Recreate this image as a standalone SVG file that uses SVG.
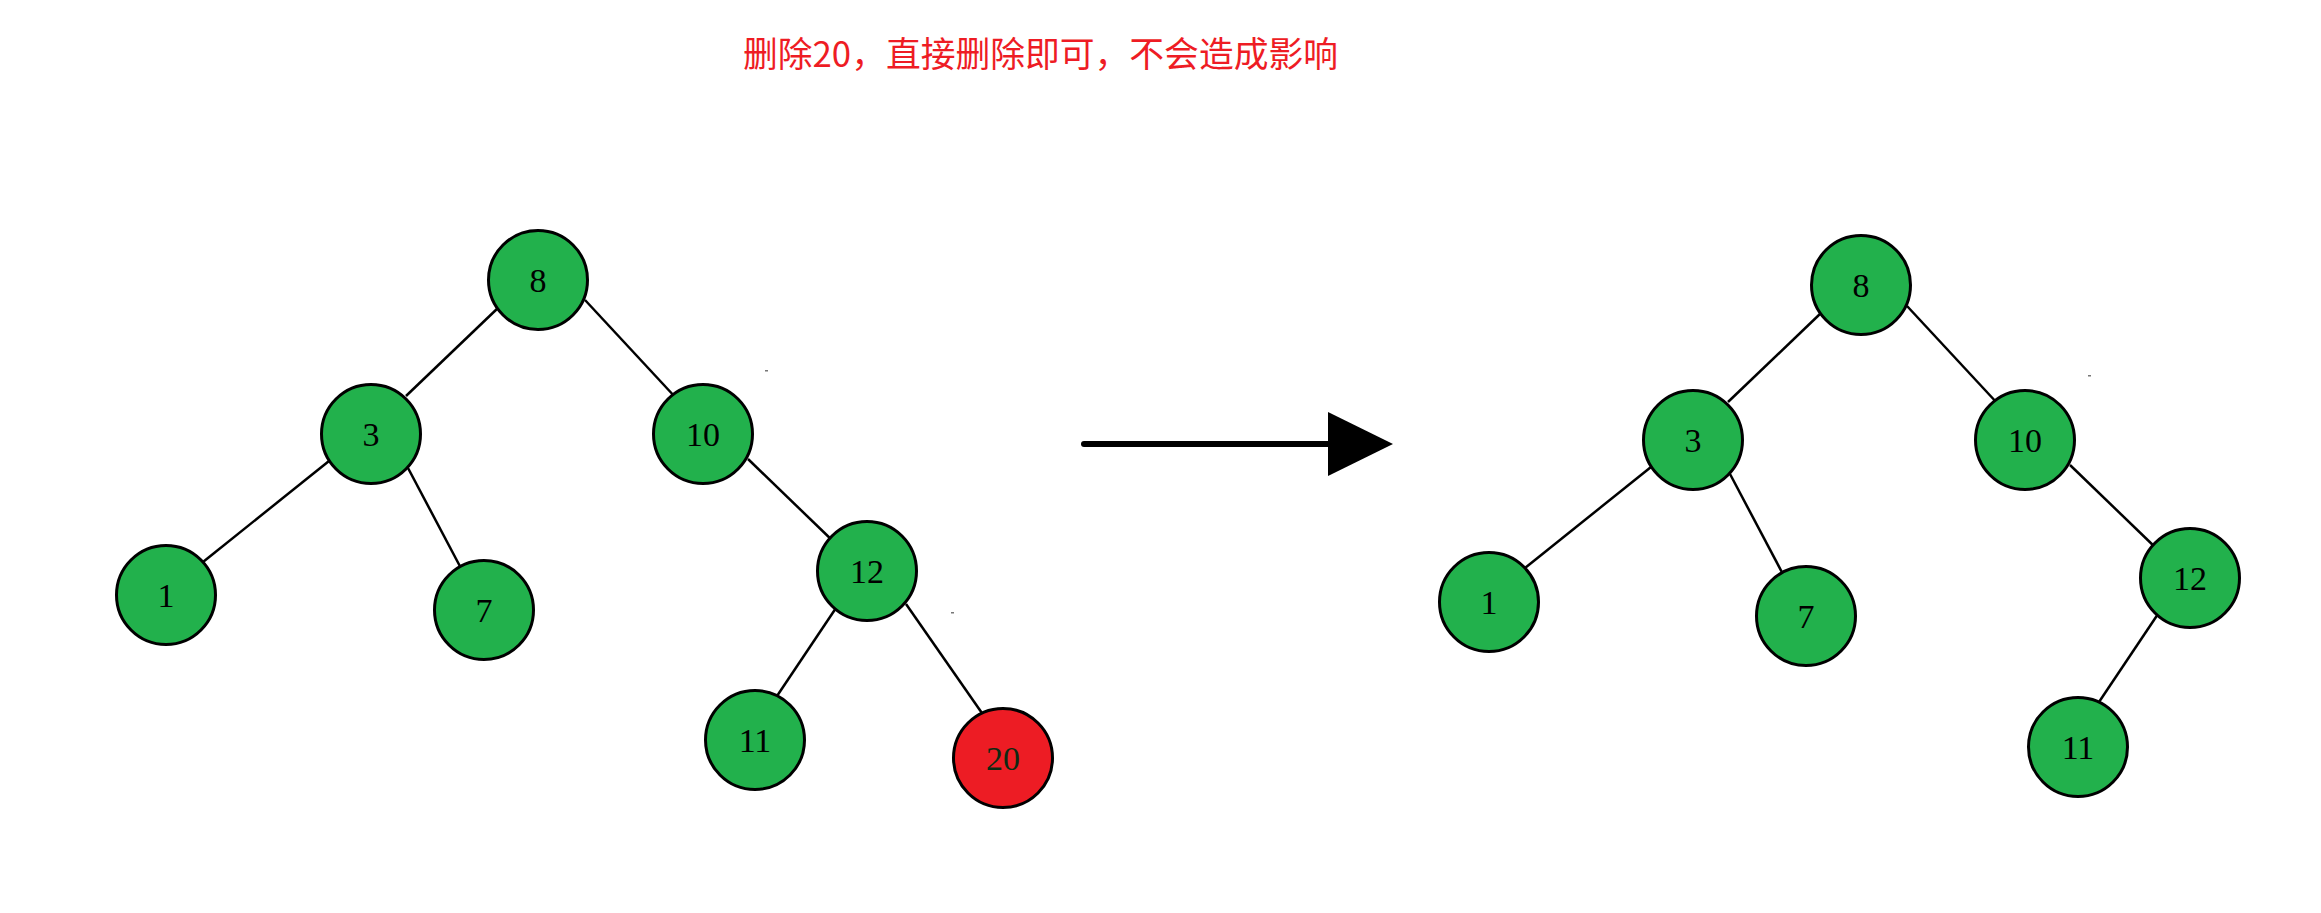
<svg xmlns="http://www.w3.org/2000/svg" width="2321" height="913" viewBox="0 0 2321 913">
<style>
.n circle{fill:#22b14c;stroke:#000;stroke-width:3}
.n text{font-family:"Liberation Serif","DejaVu Serif",serif;font-size:34px;text-anchor:middle;fill:#000}
.r circle{fill:#ed1c24}
.r text{fill:#0d2a12}
.e line{stroke:#000;stroke-width:2.5}
.t{font-family:"Noto Sans CJK SC",sans-serif;font-size:35px;fill:#ee1c24}
</style>
<rect width="2321" height="913" fill="#fff"/>
<text class="t" x="743" y="67" textLength="595" lengthAdjust="spacingAndGlyphs">删除20，直接删除即可，不会造成影响</text>
<g id="edges-left" class="e">
<line x1="499" y1="307" x2="406" y2="396"/>
<line x1="585" y1="300" x2="676" y2="398"/>
<line x1="329" y1="461" x2="203" y2="562"/>
<line x1="408" y1="468" x2="463" y2="572"/>
<line x1="748" y1="459" x2="835" y2="543"/>
<line x1="836" y1="608" x2="777" y2="696"/>
<line x1="906" y1="604" x2="984" y2="716"/>
</g>
<g id="edges-right" class="e" transform="translate(1322,6)">
<line x1="499" y1="307" x2="406" y2="396"/>
<line x1="585" y1="300" x2="676" y2="398"/>
<line x1="329" y1="461" x2="203" y2="562"/>
<line x1="408" y1="468" x2="463" y2="572"/>
<line x1="748" y1="459" x2="835" y2="543"/>
<line x1="836" y1="608" x2="777" y2="696"/>
</g>
<g id="L8" class="n"><circle cx="538" cy="280" r="49.5"/><text x="538" y="292">8</text></g>
<g id="L3" class="n"><circle cx="371" cy="434" r="49.5"/><text x="371" y="446">3</text></g>
<g id="L10" class="n"><circle cx="703" cy="434" r="49.5"/><text x="703" y="446">10</text></g>
<g id="L1" class="n"><circle cx="166" cy="595" r="49.5"/><text x="166" y="607">1</text></g>
<g id="L7" class="n"><circle cx="484" cy="610" r="49.5"/><text x="484" y="622">7</text></g>
<g id="L12" class="n"><circle cx="867" cy="571" r="49.5"/><text x="867" y="583">12</text></g>
<g id="L11" class="n"><circle cx="755" cy="740" r="49.5"/><text x="755" y="752">11</text></g>
<g id="L20" class="n r"><circle cx="1003" cy="758" r="49.5"/><text x="1003" y="770">20</text></g>
<g id="arrow">
<line x1="1084" y1="444" x2="1332" y2="444" stroke="#000" stroke-width="6" stroke-linecap="round"/>
<polygon points="1328,412 1393,444 1328,476" fill="#000"/>
</g>
<g id="R8" class="n"><circle cx="1861" cy="285" r="49.5"/><text x="1861" y="297">8</text></g>
<g id="R3" class="n"><circle cx="1693" cy="440" r="49.5"/><text x="1693" y="452">3</text></g>
<g id="R10" class="n"><circle cx="2025" cy="440" r="49.5"/><text x="2025" y="452">10</text></g>
<g id="R1" class="n"><circle cx="1489" cy="602" r="49.5"/><text x="1489" y="614">1</text></g>
<g id="R7" class="n"><circle cx="1806" cy="616" r="49.5"/><text x="1806" y="628">7</text></g>
<g id="R12" class="n"><circle cx="2190" cy="578" r="49.5"/><text x="2190" y="590">12</text></g>
<g id="R11" class="n"><circle cx="2078" cy="747" r="49.5"/><text x="2078" y="759">11</text></g>
<g fill="#777">
<rect x="765" y="370" width="3" height="1.5"/>
<rect x="951" y="612" width="3" height="1.5"/>
<rect x="2088" y="375" width="3" height="1.5"/>
</g>
</svg>
